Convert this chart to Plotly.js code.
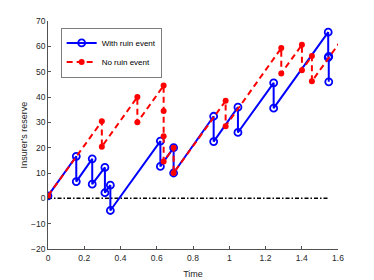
<!DOCTYPE html>
<html>
<head>
<meta charset="utf-8">
<script src="https://cdn.plot.ly/plotly-3.0.1.min.js"></script>
<style>
html,body{margin:0;padding:0;background:#fff;}
#chart{width:374px;height:280px;}
</style>
</head>
<body>
<div id="chart"></div>
<script>
// Path with ruin event (reserve drops below zero)
var ruinTime    = [0, 0.156, 0.156, 0.244, 0.244, 0.314, 0.314, 0.344, 0.344, 0.620, 0.620, 0.693, 0.693, 0.914, 0.914, 1.048, 1.048, 1.245, 1.245, 1.546, 1.546, 1.549, 1.549];
var ruinReserve = [1, 16.6, 6.6, 15.6, 5.6, 12.2, 2.2, 5.2, -4.8, 22.6, 12.6, 20.0, 10.0, 32.4, 22.4, 36.0, 26.0, 45.6, 35.6, 65.6, 55.6, 56.0, 46.0];

// Path without ruin event
var noRuinTime    = [0, 0.297, 0.297, 0.493, 0.493, 0.638, 0.638, 0.638, 0.638, 0.693, 0.693, 0.980, 0.980, 1.287, 1.287, 1.401, 1.401, 1.456, 1.456, 1.640];
var noRuinReserve = [1, 30.4, 20.4, 40.0, 30.0, 44.5, 34.5, 24.5, 14.5, 20.0, 10.0, 38.5, 28.5, 59.3, 49.3, 60.6, 50.6, 56.2, 46.2, 64.6];

// Zero (ruin) level
var zeroTime  = [0, 1.55];
var zeroLevel = [0, 0];

var xTicks = [0, 0.2, 0.4, 0.6, 0.8, 1, 1.2, 1.4, 1.6];
var xTickText = ['0', '0.2', '0.4', '0.6', '0.8', '1', '1.2', '1.4', '1.6'];
var yTicks = [-20, -10, 0, 10, 20, 30, 40, 50, 60, 70];

var traces = [
  {
    x: zeroTime, y: zeroLevel, mode: 'lines', showlegend: false, hoverinfo: 'skip',
    line: {color: '#000000', width: 1.5, dash: '4px,2px,1.5px,2px'}
  },
  {
    x: ruinTime, y: ruinReserve, mode: 'lines+markers', name: 'With ruin event',
    line: {color: '#0000ff', width: 2},
    marker: {symbol: 'circle-open', size: 7, color: '#0000ff', line: {width: 1.8, color: '#0000ff'}}
  },
  {
    x: noRuinTime, y: noRuinReserve, mode: 'lines+markers', name: 'No ruin event',
    line: {color: '#ff0000', width: 2, dash: '6px,4px'},
    marker: {symbol: 'circle', size: 6, color: '#ff0000'}
  }
];

var fam = 'Liberation Sans, Arial, sans-serif';
var axisFont = {family: fam, size: 8.5, color: '#262626'};

var layout = {
  width: 374, height: 280,
  margin: {l: 48, r: 36, t: 21, b: 31, pad: 0},
  paper_bgcolor: '#ffffff', plot_bgcolor: '#ffffff',
  showlegend: true,
  legend: {
    x: 0.045, y: 0.97, xanchor: 'left', yanchor: 'top',
    bgcolor: '#ffffff', bordercolor: '#262626', borderwidth: 0.6,
    font: {family: fam, size: 8, color: '#000000'},
    itemwidth: 30, tracegroupgap: 0
  },
  xaxis: {
    range: [0, 1.6], tickvals: xTicks, ticktext: xTickText,
    ticks: 'inside', ticklen: 3, tickwidth: 0.8, tickcolor: '#262626',
    showline: true, linecolor: '#262626', linewidth: 0.8, mirror: false,
    showgrid: false, zeroline: false, tickfont: axisFont, ticklabelstandoff: 1,
    title: {text: 'Time', font: {family: fam, size: 9, color: '#262626'}, standoff: 8}
  },
  yaxis: {
    range: [-20, 70], tickvals: yTicks,
    ticks: 'inside', ticklen: 3, tickwidth: 0.8, tickcolor: '#262626',
    showline: true, linecolor: '#262626', linewidth: 0.8, mirror: false,
    showgrid: false, zeroline: false, tickfont: axisFont,
    title: {text: "Insurer's reserve", font: {family: fam, size: 9, color: '#262626'}, standoff: 1}
  }
};

Plotly.newPlot('chart', traces, layout, {staticPlot: true, displayModeBar: false});
</script>
</body>
</html>
